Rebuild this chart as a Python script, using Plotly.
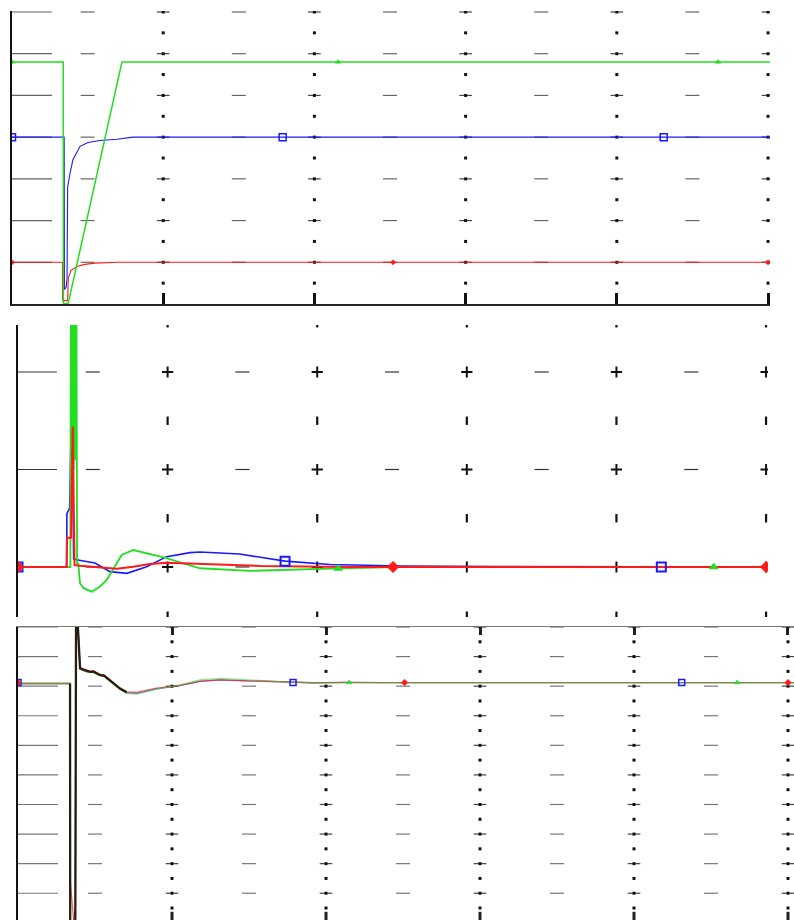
import plotly.graph_objects as go

# ---------------- DATA (time and values in screen divisions) ----------------
# Panel 1
p1_green_t = [0, 0.339, 0.340, 0.372, 0.727, 5.013]
p1_green_v = [5.8, 5.8, 0.0, 0.02, 5.8, 5.8]
p1_blue_t = [0, 0.345, 0.347, 0.358, 0.364, 0.368, 0.384, 0.403, 0.45, 0.503, 0.582, 0.694, 0.80, 5.013]
p1_blue_v = [4.0, 4.0, 0.35, 0.4, 0.6, 2.8, 3.14, 3.46, 3.78, 3.87, 3.92, 3.95, 4.0, 4.0]
p1_red_t = [0, 0.334, 0.335, 0.368, 0.372, 0.39, 0.43, 0.48, 0.55, 0.70, 5.013]
p1_red_v = [1.0, 1.0, 0.08, 0.08, 0.62, 0.8, 0.9, 0.95, 0.98, 1.0, 1.0]
p1_green_mk_t = [0, 2.156, 4.67]
p1_green_mk_v = [5.8, 5.8, 5.8]
p1_blue_mk_t = [0, 1.79, 4.31]
p1_blue_mk_v = [4.0, 4.0, 4.0]
p1_red_mk_t = [0, 2.52, 5.0]
p1_red_mk_v = [1.0, 1.0, 1.0]

# Panel 2
p2_blue_t = [0, 0.325, 0.327, 0.345, 0.360, 0.372, 0.40, 0.515, 0.615, 0.727, 0.86, 0.994, 1.15,
             1.217, 1.48, 1.785, 2.086, 2.55, 3.22, 5.013]
p2_blue_v = [0, 0, 0.55, 0.6, 1.8, 0.08, 0.072, 0.04, -0.048, -0.065, 0.003, 0.106, 0.147,
             0.154, 0.133, 0.06, 0.026, 0.01, 0.005, 0]
p2_green_t = [0, 0.35, 0.354, 0.360, 0.366, 0.372, 0.378, 0.384, 0.390, 0.395, 0.403, 0.414, 0.436,
              0.493, 0.548, 0.593, 0.648, 0.693, 0.771, 0.86, 0.994, 1.105, 1.217, 1.55, 1.885,
              2.14, 2.55, 5.013]
p2_green_v = [0, 0, 3.2, 1.2, 3.2, 1.0, 3.2, 1.1, 3.2, 0.04, 0.038, -0.164, -0.215,
              -0.253, -0.2, -0.133, 0.003, 0.123, 0.174, 0.14, 0.09, 0.038, -0.013, -0.04, -0.03,
              -0.015, 0, 0]
p2_red_t = [0, 0.325, 0.328, 0.355, 0.366, 0.378, 0.414, 0.548, 0.66, 0.771, 0.882, 0.994, 1.217,
            1.62, 2.22, 5.013]
p2_red_v = [0, 0, 0.3, 0.3, 1.44, 0.02, 0.013, -0.003, -0.017, 0.003, 0.03, 0.044, 0.03,
            0.01, 0, 0]
p2_green_mk_t = [0, 2.14, 4.65]
p2_green_mk_v = [0, -0.015, 0]
p2_blue_mk_t = [0, 1.785, 4.30]
p2_blue_mk_v = [0, 0.06, 0]
p2_red_mk_t = [0, 2.507, 5.0]
p2_red_mk_v = [0, 0, 0]

# Panel 3
p3_t = [0, 0.338, 0.339, 0.372, 0.377, 0.384, 0.403, 0.43, 0.45, 0.468, 0.49, 0.51, 0.532, 0.56,
        0.597, 0.62, 0.662, 0.706, 0.771, 0.90, 1.052, 1.182, 1.312, 1.442, 1.701, 1.918, 2.134,
        2.35, 5.039]
p3_green_v = [0.09, 0.09, -8.5, -8.5, 2.5, 2.5, 0.58, 0.52, 0.47, 0.46, 0.47, 0.40, 0.35, 0.32,
              0.17, 0.07, -0.11, -0.25, -0.27, -0.1, 0.04, 0.21, 0.26, 0.23, 0.15, 0.11, 0.125,
              0.12, 0.12]
p3_red_v = [0.09, 0.09, -6.6, -8.5, 2.5, 2.5, 0.63, 0.57, 0.53, 0.51, 0.52, 0.45, 0.40, 0.38,
            0.23, 0.13, -0.06, -0.19, -0.21, -0.07, 0.03, 0.17, 0.21, 0.19, 0.14, 0.11, 0.125,
            0.12, 0.12]
p3_blue_v = [0.09, 0.09, -8.5, -7.6, 2.5, 2.5, 0.62, 0.55, 0.52, 0.49, 0.5, 0.43, 0.38, 0.35,
             0.21, 0.11, -0.08, -0.22, -0.24, -0.09, 0.02, 0.16, 0.21, 0.19, 0.145, 0.115, 0.125,
             0.12, 0.12]
p3_black_t = [0.338, 0.339, 0.372, 0.377, 0.384, 0.403, 0.43, 0.45, 0.468, 0.49, 0.51, 0.532, 0.56,
              0.597, 0.62, 0.662, 0.706]
p3_black_v = [0.09, -8.5, -8.5, 2.5, 2.5, 0.6, 0.54, 0.5, 0.48, 0.49, 0.43, 0.38, 0.35, 0.2, 0.1,
              -0.08, -0.21]
p3_green_mk_t = [0, 2.15, 4.67]
p3_green_mk_v = [0.12, 0.12, 0.12]
p3_blue_mk_t = [0, 1.786, 4.31]
p3_blue_mk_v = [0.12, 0.12, 0.12]
p3_red_mk_t = [0, 2.51, 5.0]
p3_red_mk_v = [0.12, 0.12, 0.12]

GREEN = "#22dd22"
BLUE = "#1a1aff"
RED = "#ff1a1a"

W, H = 794, 920


def px(x):
    return x / W


def py(y):
    return 1 - y / H


fig = go.Figure()


def ax(k):
    return ("x" if k == 1 else f"x{k}"), ("y" if k == 1 else f"y{k}")


def add_grid(k, levels, halves, major_style, left_len, dash_col):
    xa, ya = ax(k)
    majors = [1, 2, 3, 4, 5]
    minors = [0.5, 1.5, 2.5, 3.5, 4.5]
    lx, ly = [], []
    for lv in levels:
        lx += [0, left_len, None]
        ly += [lv, lv, None]
    fig.add_trace(go.Scatter(x=lx, y=ly, mode="lines", xaxis=xa, yaxis=ya,
                             line=dict(color=dash_col, width=1.2), hoverinfo="skip"))
    mx = [m for m in minors for _ in levels]
    my = [lv for _ in minors for lv in levels]
    fig.add_trace(go.Scatter(x=mx, y=my, mode="markers", xaxis=xa, yaxis=ya, hoverinfo="skip",
                             marker=dict(symbol="line-ew", size=10,
                                         line=dict(width=1.2, color=dash_col))))
    gx = [m for m in majors for _ in levels]
    gy = [lv for _ in majors for lv in levels]
    hx = [m for m in majors for _ in halves]
    hy = [lv for _ in majors for lv in halves]
    if major_style == "plus":
        fig.add_trace(go.Scatter(x=gx, y=gy, mode="markers", xaxis=xa, yaxis=ya, hoverinfo="skip",
                                 marker=dict(symbol="cross-thin", size=8,
                                             line=dict(width=2, color="#111"))))
        fig.add_trace(go.Scatter(x=hx, y=hy, mode="markers", xaxis=xa, yaxis=ya, hoverinfo="skip",
                                 marker=dict(symbol="line-ns", size=6,
                                             line=dict(width=2.2, color="#111"))))
    else:
        fig.add_trace(go.Scatter(x=gx, y=gy, mode="markers", xaxis=xa, yaxis=ya, hoverinfo="skip",
                                 marker=dict(symbol="line-ew", size=9,
                                             line=dict(width=1.2, color="#444"))))
        fig.add_trace(go.Scatter(x=gx + hx, y=gy + hy, mode="markers", xaxis=xa, yaxis=ya,
                                 hoverinfo="skip",
                                 marker=dict(symbol="square", size=3, color="#111",
                                             line=dict(width=0))))


add_grid(1, [1, 2, 3, 4, 5, 6, 7], [0.5, 1.5, 2.5, 3.5, 4.5, 5.5, 6.5], "dot", 0.265, "#666")
add_grid(2, [0, 1, 2], [-0.5, 0.5, 1.5, 2.5], "plus", 0.26, "#333")
add_grid(3, [2, 1, 0, -1, -2, -3, -4, -5, -6, -7], [1.5, 0.5, -0.5, -1.5, -2.5, -3.5, -4.5, -5.5,
                                                      -6.5, -7.5], "dot", 0.26, "#777")

fig.add_trace(go.Scatter(x=[1, 2, 3, 4, 5], y=[-7.77] * 5, mode="markers", xaxis="x3", yaxis="y3",
                         hoverinfo="skip",
                         marker=dict(symbol="line-ns", size=6, line=dict(width=3, color="#222"))))


def line(k, t, v, color, width, opacity=1.0):
    xa, ya = ax(k)
    fig.add_trace(go.Scatter(x=t, y=v, mode="lines", xaxis=xa, yaxis=ya, opacity=opacity,
                             line=dict(color=color, width=width), hoverinfo="skip"))


def marks(k, t, v, color, symbol, size, lw=1.5):
    xa, ya = ax(k)
    fig.add_trace(go.Scatter(x=t, y=v, mode="markers", xaxis=xa, yaxis=ya, hoverinfo="skip",
                             marker=dict(symbol=symbol, size=size, color=color,
                                         line=dict(width=lw, color=color))))


# Panel 1 traces
line(1, p1_blue_t, p1_blue_v, BLUE, 1.1)
line(1, p1_red_t, p1_red_v, RED, 1.1)
line(1, p1_green_t, p1_green_v, GREEN, 1.5)
marks(1, p1_blue_mk_t, p1_blue_mk_v, BLUE, "square-open", 7, 1.5)
marks(1, p1_green_mk_t, p1_green_mk_v, GREEN, "triangle-up", 5, 0.5)
marks(1, p1_red_mk_t, p1_red_mk_v, RED, "diamond", 4, 0.5)

# Panel 2 traces
line(2, p2_blue_t, p2_blue_v, BLUE, 1.6)
line(2, p2_green_t, p2_green_v, GREEN, 1.8)
line(2, p2_red_t, p2_red_v, RED, 2)
marks(2, p2_blue_mk_t, p2_blue_mk_v, BLUE, "square-open", 9, 2)
marks(2, p2_green_mk_t, p2_green_mk_v, GREEN, "triangle-up", 8, 0.5)
marks(2, p2_red_mk_t, p2_red_mk_v, RED, "diamond", 9, 0.5)

# Panel 3 traces
line(3, p3_t, p3_blue_v, BLUE, 1.3, 0.6)
line(3, p3_t, p3_red_v, RED, 1.3, 0.7)
line(3, p3_t, p3_green_v, GREEN, 1.3, 0.55)
line(3, p3_black_t, p3_black_v, "#1a1208", 2.3, 0.9)
marks(3, p3_blue_mk_t, p3_blue_mk_v, BLUE, "square-open", 6, 1.5)
marks(3, p3_green_mk_t, p3_green_mk_v, GREEN, "triangle-up", 5, 0.5)
marks(3, p3_red_mk_t, p3_red_mk_v, RED, "diamond", 5, 0.5)

common = dict(showgrid=False, zeroline=False, showticklabels=False, fixedrange=True)

fig.update_layout(
    width=W, height=H, margin=dict(l=0, r=0, t=0, b=0),
    paper_bgcolor="white", plot_bgcolor="white", showlegend=False,
    xaxis=dict(domain=[px(12), px(770)], range=[0, 5.013], anchor="y", showline=True,
               linecolor="#222", linewidth=1.5, ticks="inside", tickvals=[1, 2, 3, 4, 5],
               ticklen=11, tickwidth=3, tickcolor="#111", **common),
    yaxis=dict(domain=[py(304), py(11)], range=[0, 7.024], anchor="x", showline=True,
               linecolor="#111", linewidth=2.5, ticks="", **common),
    xaxis2=dict(domain=[px(18), px(768)], range=[0, 5.013], anchor="y2", showline=False,
                ticks="", **common),
    yaxis2=dict(domain=[py(617), py(325)], range=[-0.513, 2.482], anchor="x2", showline=True,
                linecolor="#111", linewidth=2.5, ticks="", **common),
    xaxis3=dict(domain=[px(18), 1], range=[0, 5.039], anchor="y3", side="top", showline=True,
                linecolor="#777", linewidth=1.5, ticks="inside", tickvals=[1, 2, 3, 4, 5],
                ticklen=8, tickwidth=3, tickcolor="#222", **common),
    yaxis3=dict(domain=[0, py(627)], range=[-7.905, 2.0], anchor="x3", showline=True,
                linecolor="#111", linewidth=2.5, ticks="", **common),
)

fig.write_html("out.html", config={"staticPlot": True},
               post_script="document.body.style.margin='0';document.body.style.padding='0';")
